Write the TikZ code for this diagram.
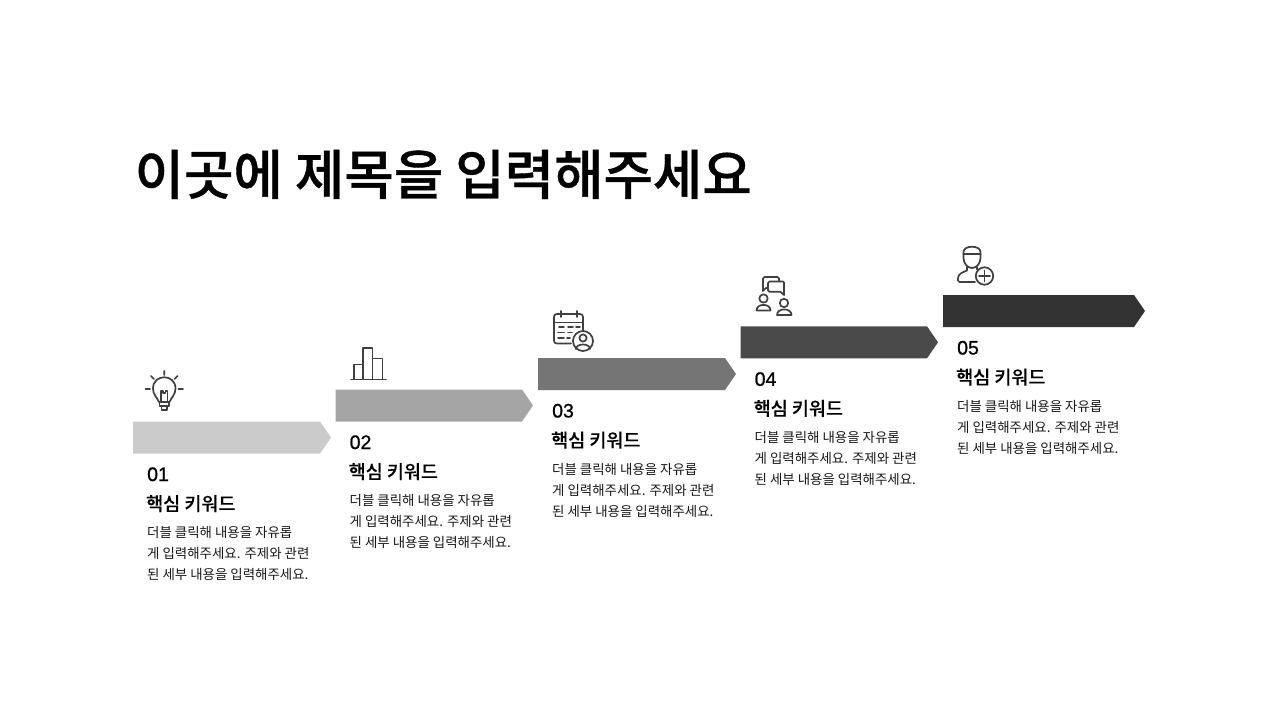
\documentclass[tikz,border=0pt]{standalone}
\usepackage{fontspec}
\setmainfont{Noto Sans CJK KR}
\newfontfamily\krtitle{Noto Sans CJK KR Medium}[FakeBold=0.7]
\newfontfamily\krkey{Noto Sans CJK KR Medium}[FakeBold=0.1]
\newfontfamily\numfont{Liberation Sans}[FakeBold=0.9]
\tikzset{
  x=1pt,y=-1pt,
  titletext/.style={anchor=base west,inner sep=0pt,font=\krtitle\fontsize{53.7}{60}\selectfont},
  numtext/.style={anchor=base west,inner sep=0pt,font=\numfont\fontsize{19.5}{24}\selectfont},
  keytext/.style={anchor=base west,inner sep=0pt,font=\krkey\fontsize{18.5}{22}\selectfont},
  bodytext/.style={anchor=base west,inner sep=0pt,font=\fontsize{13.45}{16}\selectfont,text=black!90},
  icon/.style={draw=black!75,line width=1.7pt,line cap=round,line join=round,fill=none},
}
\newcommand{\stepgroup}[6]{%
  \definecolor{c#1}{HTML}{#4}
  \fill[c#1] (#2,#3) -- ++(#6-11,0) -- ++(11,16) -- ++(-11,16) -- ++(-#6+11,0) -- cycle;
  \node[numtext] (num#1) at (#2+14,#3+59.5) {#5};
  \node[keytext] (key#1) at (#2+13,#3+89) {핵심 키워드};
  \node[bodytext] (la#1) at (#2+14,#3+116) {더블 클릭해 내용을 자유롭};
  \node[bodytext] (lb#1) at (#2+14,#3+137) {게 입력해주세요. 주제와 관련};
  \node[bodytext] (lc#1) at (#2+14,#3+158) {된 세부 내용을 입력해주세요.};
}
\begin{document}
\begin{tikzpicture}
\useasboundingbox (0,0) rectangle (1280,720);
\fill[white] (0,0) rectangle (1280,720);
\node[titletext] (title) at (134.5,194.5) {이곳에 제목을 입력해주세요};
\stepgroup{a}{133}{421.5}{CBCBCB}{01}{198}
\stepgroup{b}{335.5}{389.5}{A5A5A5}{02}{197.5}
\stepgroup{c}{538}{358}{757575}{03}{198}
\stepgroup{d}{740.5}{326.3}{4A4A4A}{04}{197.5}
\stepgroup{e}{943}{295}{333333}{05}{202}
% bulb
\begin{scope}[icon]
\draw (159,402) .. controls (157,397) and (153,395) .. (153,388.5) .. controls (153,373.5) and (175.5,373.5) .. (175.5,388.5) .. controls (175.5,395) and (171.5,397) .. (169.5,402) -- cycle;
\draw (161,402) -- (161,391) -- (163,391) -- (163,393) -- (165.5,393) -- (165.5,391) -- (167.5,391) -- (167.5,402);
\draw (159.5,402) -- (159.5,406) -- (169,406) -- (169,402) (161.5,406) -- (161.5,410) -- (167,410) -- (167,406);
\draw (164.3,371) -- (164.3,375) (151,376) -- (154,379) (177.5,376) -- (174.5,379) (145.5,389) -- (150,389) (178.5,389) -- (183,389);
\end{scope}
% bars
\begin{scope}[icon]
\draw (351,379.5) -- (386,379.5);
\draw (354,379) -- (354,364.5) -- (363,364.5) -- (363,379);
\draw (363,379) -- (363,348) -- (372.5,348) -- (372.5,379);
\draw (372.5,358.5) -- (382.5,358.5) -- (382.5,379);
\end{scope}
% calendar + person
\begin{scope}[icon]
\draw (571,343.5) -- (557,343.5) .. controls (555,343.5) and (554,342.5) .. (554,340.5) -- (554,317) .. controls (554,315) and (555,314) .. (557,314) -- (580,314) .. controls (582,314) and (583,315) .. (583,317) -- (583,330);
\draw (554,322.5) -- (583,322.5);
\draw (561,311) -- (561,317) (577,311) -- (577,317);
\draw (559,327) -- (564,327) (568,327) -- (573,327) (576,327) -- (580,327);
\draw (558,332.5) -- (564,332.5) (568,332.5) -- (572,332.5);
\draw (558,338) -- (564,338) (567,338) -- (570,338);
\draw (583,341) circle (10);
\draw (583,338) circle (3.6);
\draw (576,349) .. controls (576,343) and (590,343) .. (590,349);
\end{scope}
% chat + people
\begin{scope}[icon]
\draw (768,288) -- (766,288) -- (763,291) -- (763,278.5) .. controls (763,277.5) and (763.5,277) .. (764.5,277) -- (777.5,277) .. controls (778.5,277) and (779,277.5) .. (779,278.5) -- (779,281.5);
\draw (769.5,281.5) -- (783,281.5) .. controls (783.7,281.5) and (784,281.8) .. (784,282.5) -- (784,295) -- (780.5,291.8) -- (769.5,291.8) .. controls (768.5,291.8) and (768,291.3) .. (768,290.5) -- (768,283) .. controls (768,282) and (768.5,281.5) .. (769.5,281.5) -- cycle;
\draw (763.5,298.5) circle (4.2);
\draw (756.5,310.5) .. controls (756.5,303) and (770.5,303) .. (770.5,310.5) -- cycle;
\draw (784,303) circle (4.2);
\draw (777,315) .. controls (777,307.5) and (791.5,307.5) .. (791.5,315) -- cycle;
\end{scope}
% person plus
\begin{scope}[icon]
\draw (963.5,252) .. controls (963.5,245) and (980.5,245) .. (980.5,252) -- (980.5,258) .. controls (980.5,264) and (976,268) .. (972,268) .. controls (968,268) and (963.5,264) .. (963.5,258) -- cycle;
\draw (963.5,254) -- (980.5,254);
\draw (967,267) -- (967,270.5) .. controls (962,272.5) and (958,274) .. (958,278.5) -- (958,280.5) .. controls (958,281.5) and (958.5,282) .. (959.5,282) -- (975,282);
\draw (977,267) -- (977,269.5);
\draw (984.5,276) circle (8.7);
\draw (984.5,270.5) -- (984.5,281.5) (979,276) -- (990,276);
\end{scope}
\end{tikzpicture}
\end{document}
